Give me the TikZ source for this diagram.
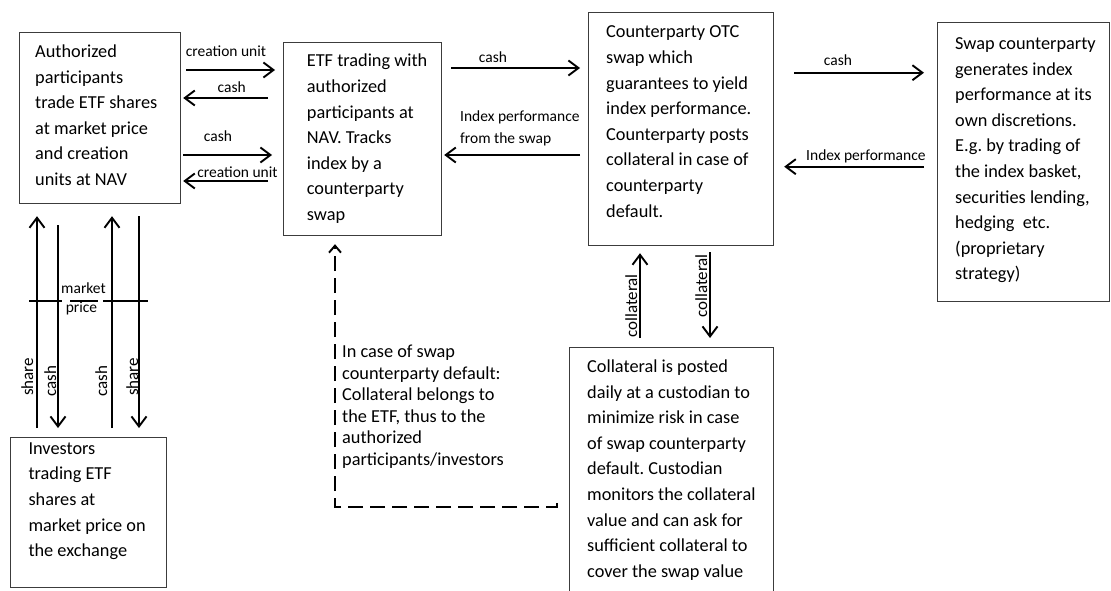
\documentclass[tikz,border=0pt]{standalone}
\usepackage{fontspec}
\setmainfont{Carlito}
\usetikzlibrary{arrows.meta,calc}
\frenchspacing
\newcommand\bigf{\fontsize{18.3pt}{25.6pt}\selectfont}
\newcommand\dashf{\fontsize{18.3pt}{21.5pt}\selectfont}
\newcommand\smallf{\fontsize{15.5pt}{21.6pt}\selectfont}
\newcommand\rotf{\fontsize{17pt}{20pt}\selectfont}
\definecolor{boxgray}{HTML}{3C3C3C}
\begin{document}
\begin{tikzpicture}[x=1pt,y=-1pt,
  box/.style={draw=boxgray,line width=1.2pt,inner sep=0pt,anchor=north west},
  txt/.style={inner sep=0pt,align=left,font=\bigf,anchor=base west},
  lbl/.style={inner sep=0pt,font=\smallf,anchor=base},
  rlbl/.style={inner sep=0pt,font=\rotf,anchor=base,rotate=90},
  arr/.style={line width=1.9pt,-{Straight Barb[length=10pt,width=15pt]}},
  dasharr/.style={line width=1.9pt,dash pattern=on 15pt off 7pt,-{Straight Barb[length=7pt,width=12pt]}},
  mline/.style={line width=1.2pt}]
\useasboundingbox (0,0) rectangle (1111,591);
\clip (0,0) rectangle (1111,591);
\fill[white] (0,0) rectangle (1111,591);
% boxes
\node[box,minimum width=161pt,minimum height=171pt] (A) at (19,32) {};
\node[box,minimum width=158pt,minimum height=193pt] (B) at (283,42) {};
\node[box,minimum width=185pt,minimum height=233pt] (C) at (588,12) {};
\node[box,minimum width=172pt,minimum height=279pt] (D) at (937,22) {};
\node[box,minimum width=156pt,minimum height=150pt] (E) at (10,437) {};
\node[box,minimum width=204pt,minimum height=260pt] (F) at (569,347) {};
% box texts (base anchor = baseline of the last line)
\node[txt] (At) at (35,185.5) {Authorized\\participants\\trade ETF shares\\at market price\\and creation\\units at NAV};
\node[txt] (Bt) at (306.7,220.5) {ETF trading with\\authorized\\participants at\\NAV. Tracks\\index by a\\counterparty\\swap};
\node[txt] (Ct) at (606,217) {Counterparty OTC\\swap which\\guarantees to yield\\index performance.\\Counterparty posts\\collateral in case of\\counterparty\\default.};
\node[txt] (Dt) at (955,279.9) {Swap counterparty\\generates index\\performance at its\\own discretions.\\E.g. by trading of\\the index basket,\\securities lending,\\hedging\ \ etc.\\(proprietary\\strategy)};
\node[txt] (Et) at (28.3,556.6) {Investors\\trading ETF\\shares at\\market price on\\the exchange};
\node[txt] (Ft) at (587,577.3) {Collateral is posted\\daily at a custodian to\\minimize risk in case\\of swap counterparty\\default. Custodian\\monitors the collateral\\value and can ask for\\sufficient collateral to\\cover the swap value};
\node[txt,font=\dashf] (Gt) at (342,465) {In case of swap\\counterparty default:\\Collateral belongs to\\the ETF, thus to the\\authorized\\participants/investors};
% A <-> B
\draw[arr] ($(A.east|-0,70)+(5,0)$) -- ($(B.west|-0,70)+(-8,0)$);
\draw[arr] ($(B.west|-0,98)+(-15,0)$) -- ($(A.east|-0,98)+(2,0)$);
\draw[arr] ($(A.east|-0,155)+(2,0)$) -- ($(B.west|-0,155)+(-11,0)$);
\draw[arr] ($(B.west|-0,181)+(-15,0)$) -- ($(A.east|-0,181)+(2,0)$);
\node[lbl] (l1) at (226,57) {creation unit};
\node[lbl] (l2) at (231.7,93) {cash};
\node[lbl] (l3) at (218,142) {cash};
\node[lbl] (l4) at (237.5,177) {creation unit};
% B <-> C
\draw[arr] ($(B.east|-0,68)+(9,0)$) -- ($(C.west|-0,68)+(-8,0)$);
\draw[arr] ($(C.west|-0,155)+(-8,0)$) -- ($(B.east|-0,155)+(2,0)$);
\node[lbl] (l5) at (493,63) {cash};
\node[lbl,anchor=base west,align=left] (l6) at (460,143.6) {Index performance\\from the swap};
% C <-> D
\draw[arr] ($(C.east|-0,72.7)+(20,0)$) -- ($(D.west|-0,72.7)+(-13,0)$);
\draw[arr] ($(D.west|-0,166.7)+(-13,0)$) -- ($(C.east|-0,166.7)+(10,0)$);
\node[lbl] (l7) at (838,66) {cash};
\node[lbl,anchor=base west] (l8) at (806,160.7) {Index performance};
% C <-> F
\draw[arr] ($(F.north-|640,0)+(0,-9)$) -- ($(C.south-|640,0)+(0,7)$);
\draw[arr] ($(C.south-|710,0)+(0,6)$) -- ($(F.north-|710,0)+(0,-9)$);
\node[rlbl] (l9) at (637,306) {collateral};
\node[rlbl] (l10) at (707,286) {collateral};
% A <-> E
\draw[arr] ($(E.north-|37,0)+(0,-9)$) -- ($(A.south-|37,0)+(0,12)$);
\draw[arr] ($(A.south-|58,0)+(0,21)$) -- ($(E.north-|58,0)+(0,-9)$);
\draw[arr] ($(E.north-|112,0)+(0,-9)$) -- ($(A.south-|112,0)+(0,12)$);
\draw[arr] ($(A.south-|139,0)+(0,12)$) -- ($(E.north-|139,0)+(0,-9)$);
\node[rlbl] (l11) at (33,377) {share};
\node[rlbl] (l12) at (56,381) {cash};
\node[rlbl] (l13) at (107,381) {cash};
\node[rlbl] (l14) at (138,377) {share};
% market line
\draw[mline] (29,301) -- (61.7,301);
\draw[mline] (70,301) -- (98.3,301);
\draw[mline] (103.3,301) -- (147.7,301);
\node[lbl] (l15) at (83.5,293.5) {market};
\node[lbl] (l16) at (81.5,312.5) {price};
% dashed default path
\coordinate (dstart) at (557,503);
\coordinate (dcorner) at (335,507);
\draw[dasharr] (dstart) -- (dstart|-dcorner) -- (dcorner) -- ($(B.south-|dcorner)+(0,8)$);
\end{tikzpicture}
\end{document}
